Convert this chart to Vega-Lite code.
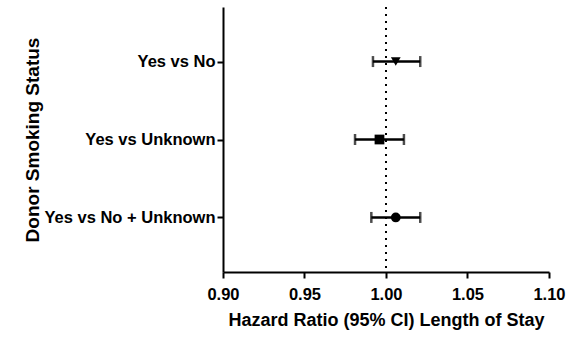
{
  "$schema": "https://vega.github.io/schema/vega-lite/v6.json",
  "autosize": {"type": "none"},
  "padding": {"left": 223, "top": 7, "right": 38, "bottom": 75},
  "width": 326,
  "height": 265,
  "background": "white",
  "config": {
    "view": {"stroke": null},
    "font": "Liberation Sans",
    "axis": {
      "domainColor": "black",
      "domainWidth": 2,
      "tickColor": "black",
      "tickWidth": 2,
      "tickSize": 6,
      "grid": false,
      "labelColor": "black",
      "labelFont": "Liberation Sans",
      "labelFontWeight": "bold",
      "labelFontSize": 16.5,
      "titleColor": "black",
      "titleFont": "Liberation Sans",
      "titleFontWeight": "bold",
      "titleFontSize": 18
    }
  },
  "data": {
    "values": [
      {"comparison": "Yes vs No", "hr": 1.006, "lo": 0.992, "hi": 1.021, "marker": "triangle-down"},
      {"comparison": "Yes vs Unknown", "hr": 0.996, "lo": 0.981, "hi": 1.011, "marker": "square"},
      {"comparison": "Yes vs No + Unknown", "hr": 1.006, "lo": 0.991, "hi": 1.021, "marker": "circle"}
    ]
  },
  "encoding": {
    "y": {
      "field": "comparison",
      "type": "nominal",
      "sort": ["Yes vs No", "Yes vs Unknown", "Yes vs No + Unknown"],
      "scale": {"type": "point", "padding": 0.7},
      "axis": {"title": "Donor Smoking Status", "labelPadding": 2, "titlePadding": 1, "titleFontSize": 19}
    }
  },
  "layer": [
    {
      "mark": {"type": "rule", "strokeDash": [2, 5], "strokeWidth": 2, "color": "black"},
      "encoding": {"x": {"datum": 1.0, "type": "quantitative"}, "y": null}
    },
    {
      "mark": {"type": "rule", "color": "black", "strokeWidth": 2.5},
      "encoding": {
        "x": {
          "field": "lo",
          "type": "quantitative",
          "scale": {"domain": [0.9, 1.1], "nice": false, "zero": false},
          "axis": {
            "title": "Hazard Ratio (95% CI) Length of Stay",
            "values": [0.9, 0.95, 1.0, 1.05, 1.1],
            "format": ".2f",
            "labelFlush": false,
            "labelPadding": 8,
            "titlePadding": 9
          }
        },
        "x2": {"field": "hi"}
      }
    },
    {
      "mark": {"type": "tick", "orient": "vertical", "color": "black", "thickness": 2.5, "size": 11},
      "encoding": {"x": {"field": "lo", "type": "quantitative"}}
    },
    {
      "mark": {"type": "tick", "orient": "vertical", "color": "black", "thickness": 2.5, "size": 11},
      "encoding": {"x": {"field": "hi", "type": "quantitative"}}
    },
    {
      "mark": {"type": "point", "filled": true, "color": "black", "opacity": 1, "size": 95},
      "encoding": {
        "x": {"field": "hr", "type": "quantitative"},
        "shape": {"field": "marker", "type": "nominal", "scale": null, "legend": null}
      }
    }
  ]
}
